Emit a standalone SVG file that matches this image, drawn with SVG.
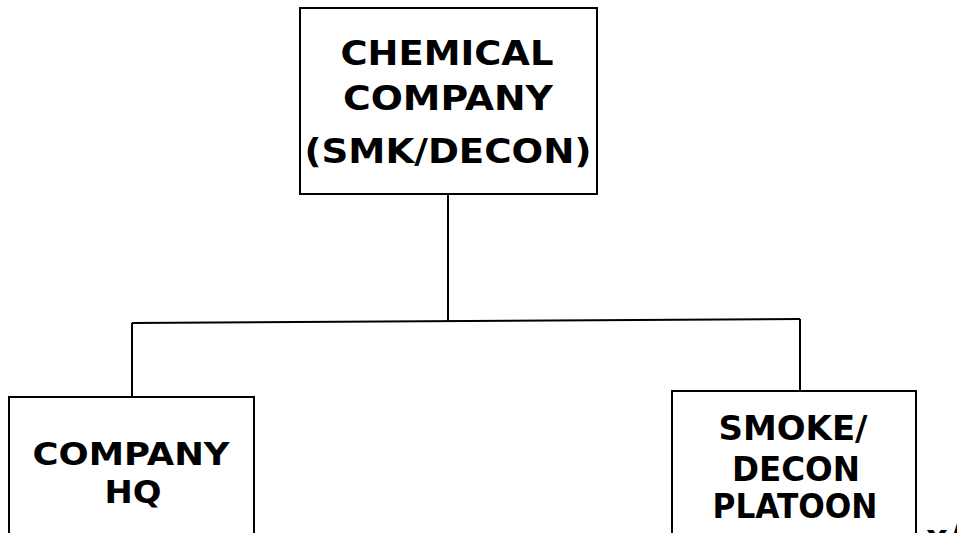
<svg xmlns="http://www.w3.org/2000/svg" width="957" height="533" viewBox="0 0 957 533">
<style>
.box{fill:#fff;stroke:#000;stroke-width:2}
.ln{fill:none;stroke:#000;stroke-width:2}
.t{font-family:"DejaVu Sans","Liberation Sans",sans-serif;font-weight:bold;fill:#000;text-anchor:middle}
.a{font-size:34px}
.b{font-size:34px}
.c{font-size:32px}
</style>
<rect width="957" height="533" fill="#fff"/>
<g id="connectors">
<path class="ln" d="M448,194 V321"/>
<path class="ln" d="M132,323 L800,319"/>
<path class="ln" d="M132,323 V397"/>
<path class="ln" d="M800,319 V391"/>
</g>
<g id="chemical-company">
<rect class="box" x="300" y="8" width="297" height="186"/>
<text class="t a" x="447" y="65" textLength="213" lengthAdjust="spacingAndGlyphs">CHEMICAL</text>
<text class="t a" x="448" y="110" textLength="210" lengthAdjust="spacingAndGlyphs">COMPANY</text>
<text class="t a" x="448" y="163" textLength="287" lengthAdjust="spacingAndGlyphs">(SMK/DECON)</text>
</g>
<g id="company-hq">
<rect class="box" x="9" y="397" width="245" height="150"/>
<text class="t c" x="131" y="465" textLength="197" lengthAdjust="spacingAndGlyphs">COMPANY</text>
<text class="t c" x="133" y="503" textLength="57" lengthAdjust="spacingAndGlyphs">HQ</text>
</g>
<g id="smoke-decon-platoon">
<rect class="box" x="672" y="391" width="244" height="160"/>
<text class="t b" x="793" y="440" textLength="149" lengthAdjust="spacingAndGlyphs">SMOKE/</text>
<text class="t b" x="796" y="481" textLength="128" lengthAdjust="spacingAndGlyphs">DECON</text>
<text class="t b" x="795" y="518" textLength="165" lengthAdjust="spacingAndGlyphs">PLATOON</text>
</g>
<text class="t b" x="926" y="549" style="text-anchor:start">x/</text>
</svg>
